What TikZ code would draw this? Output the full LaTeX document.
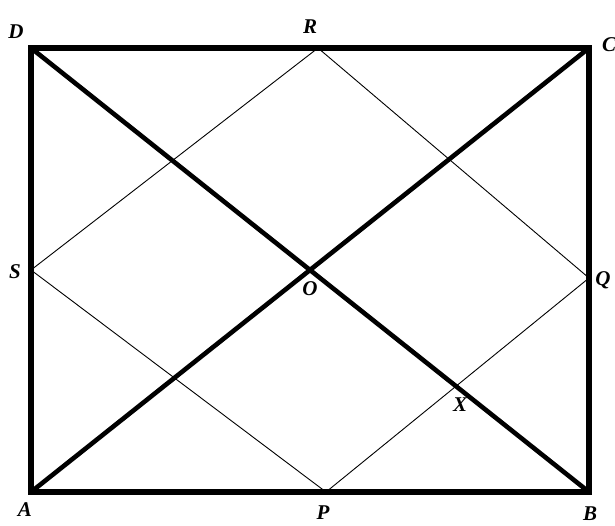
\documentclass[tikz,border=0pt]{standalone}
\usepackage{fontspec}
\setmainfont{Liberation Serif}
\begin{document}
\begin{tikzpicture}[x=0.5pt,y=-0.5pt,
  thickline/.style={line width=2.3pt},
  thinline/.style={line width=0.45pt},
  lbl/.style={font=\bfseries\itshape\fontsize{10.5}{12}\selectfont, inner sep=0pt}]
\useasboundingbox (0,0) rectangle (615,525);
\fill[white] (0,0) rectangle (615,525);
\coordinate (A) at (31,492);
\coordinate (B) at (589,492);
\coordinate (C) at (589,48);
\coordinate (D) at (31,48);
\coordinate (P) at (326,492);
\coordinate (Q) at (589,278);
\coordinate (R) at (318,48);
\coordinate (S) at (31,270);
\coordinate (O) at (310,270);
% inner rhombus
\draw[thinline] (P) -- (Q) -- (R) -- (S) -- cycle;
% diagonals
\draw[thickline] (A) -- (C);
\draw[thickline] (D) -- (B);
% rectangle
\draw[line width=2.6pt, line join=miter] (A) -- (B) -- (C) -- (D) -- cycle;
% labels
\node[lbl] (lD) at (16,32) {D};
\node[lbl] (lR) at (310,27) {R};
\node[lbl] (lC) at (609,45) {C};
\node[lbl] (lS) at (15,272) {S};
\node[lbl] (lO) at (310,289) {O};
\node[lbl] (lQ) at (603,280) {Q};
\node[lbl] (lX) at (460,405) {X};
\node[lbl] (lA) at (25,510) {A};
\node[lbl] (lP) at (323,513) {P};
\node[lbl] (lB) at (590,514) {B};
\end{tikzpicture}
\end{document}
